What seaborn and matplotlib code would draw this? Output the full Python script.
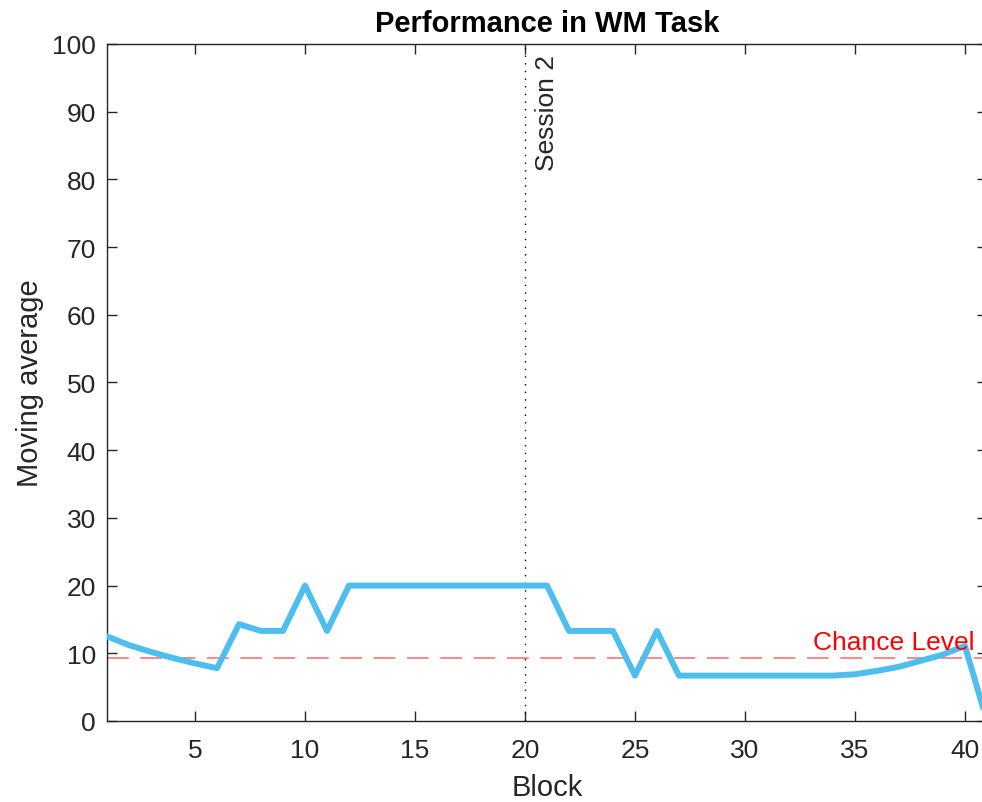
import matplotlib
matplotlib.use("Agg")
import matplotlib.pyplot as plt
import seaborn as sns
import pandas as pd
import numpy as np

blocks = list(range(1, 42))
performance = [12.5, 11.2, 10.2, 9.3, 8.5, 7.8, 14.3, 13.3, 13.3, 20.0,
               13.3, 20.0, 20.0, 20.0, 20.0, 20.0, 20.0, 20.0, 20.0, 20.0,
               20.0, 13.3, 13.3, 13.3, 6.7, 13.3, 6.7, 6.7, 6.7, 6.7,
               6.7, 6.7, 6.7, 6.7, 6.9, 7.4, 8.0, 8.9, 9.8, 11.1, 0.0]
chance_level = 9.3
session_block = 20
x_ticks = [5, 10, 15, 20, 25, 30, 35, 40]
y_ticks = [0, 10, 20, 30, 40, 50, 60, 70, 80, 90, 100]

df = pd.DataFrame({"Block": blocks, "Moving average": performance})

sns.set_style("ticks")
plt.rcParams["font.family"] = ["Liberation Sans", "DejaVu Sans"]
dark = "#262626"

fig = plt.figure(figsize=(9.82, 8.03), dpi=100)
ax = fig.add_axes([0.109, 0.1009, 1.005 - 0.109, 0.944 - 0.1009])

sns.lineplot(data=df, x="Block", y="Moving average", ax=ax,
             color="#4DBEEE", linewidth=4.3, zorder=3)
ax.axhline(chance_level, color="red", alpha=0.55, linewidth=1.2,
           dashes=(13, 7), zorder=2)
ax.axvline(session_block, color="black", linewidth=1.0,
           linestyle=(0, (1, 4.5)), zorder=2)

ax.text(session_block + 0.45, 98.5, "Session 2", rotation=90, ha="left", va="top",
        fontsize=19, color=dark)
ax.text(40.45, 10.6, "Chance Level", ha="right", va="baseline",
        fontsize=19, color="red")

ax.set_xlim(1, 41)
ax.set_ylim(0, 100)
ax.set_xticks(x_ticks)
ax.set_yticks(y_ticks)
ax.tick_params(direction="in", length=7, width=1.0, labelsize=19, colors=dark,
               top=True, right=True)
ax.tick_params(axis="x", pad=12)
ax.tick_params(axis="y", pad=8)
for s in ax.spines.values():
    s.set_visible(True)
    s.set_color(dark)
    s.set_linewidth(1.0)

ax.set_xlabel("Block", fontsize=21, color=dark, labelpad=8)
ax.set_ylabel("Moving average", fontsize=21, color=dark, labelpad=6)
ax.set_title("Performance in WM Task", fontsize=21, fontweight="bold",
             color="black", pad=9)

fig.savefig("out.png", dpi=100)
